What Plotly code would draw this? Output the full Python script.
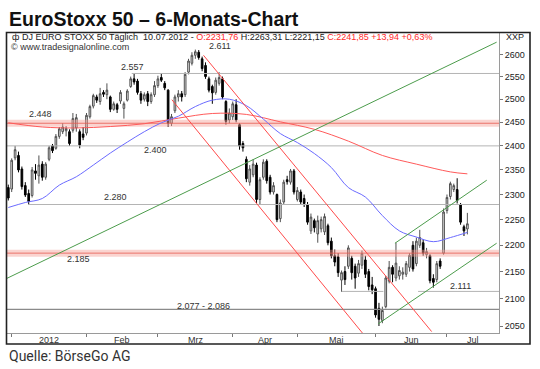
import math
import pandas as pd
import plotly.graph_objects as go

# ---------------- data ----------------
holidays = ["2012-04-06", "2012-04-09"]
dates = [d.strftime("%d.%m.%Y") for d in pd.bdate_range("2011-12-30", "2012-07-10")
         if d.strftime("%Y-%m-%d") not in holidays]

opens = [2314, 2311, 2375, 2380, 2352, 2318, 2302, 2298, 2348, 2338,
         2362, 2335, 2372, 2400, 2395, 2420, 2430, 2432, 2430, 2433,
         2438, 2430, 2425, 2427, 2462, 2485, 2505, 2495, 2515, 2510,
         2505, 2478, 2488, 2496, 2480, 2498, 2528, 2545, 2540, 2512,
         2500, 2512, 2495, 2510, 2530, 2548, 2535, 2520, 2448, 2475,
         2505, 2512, 2510, 2560, 2580, 2598, 2605, 2590, 2575, 2545,
         2528, 2515, 2535, 2545, 2495, 2455, 2462, 2488, 2445, 2405,
         2372, 2325, 2340, 2360, 2290, 2335, 2368, 2335, 2305, 2300,
         2252, 2285, 2330, 2325, 2348, 2290, 2305, 2292, 2280, 2228,
         2248, 2222, 2232, 2226, 2238, 2208, 2180, 2178, 2134, 2150,
         2160, 2175, 2160, 2147, 2162, 2172, 2150, 2125, 2118, 2082,
         2060, 2085, 2132, 2158, 2138, 2142, 2145, 2145, 2158, 2200,
         2165, 2200, 2205, 2182, 2180, 2137, 2135, 2170, 2185, 2268,
         2296, 2310, 2310, 2280, 2236, 2231.76]
highs = [2320, 2374, 2400, 2388, 2357, 2325, 2310, 2356, 2362, 2380,
         2368, 2366, 2400, 2404, 2425, 2440, 2448, 2442, 2435, 2470,
         2468, 2435, 2440, 2470, 2488, 2512, 2510, 2525, 2520, 2535,
         2508, 2495, 2492, 2520, 2495, 2522, 2550, 2557, 2545, 2518,
         2515, 2518, 2515, 2540, 2552, 2557, 2540, 2522, 2468, 2510,
         2520, 2518, 2560, 2590, 2605, 2611, 2610, 2595, 2582, 2550,
         2532, 2548, 2560, 2550, 2498, 2480, 2495, 2500, 2448, 2410,
         2378, 2360, 2372, 2365, 2335, 2372, 2372, 2340, 2325, 2302,
         2290, 2330, 2338, 2352, 2352, 2315, 2310, 2300, 2285, 2262,
         2252, 2258, 2256, 2262, 2242, 2215, 2192, 2185, 2152, 2160,
         2200, 2180, 2165, 2172, 2190, 2180, 2155, 2140, 2122, 2092,
         2085, 2142, 2170, 2162, 2205, 2160, 2158, 2170, 2185, 2208,
         2215, 2230, 2212, 2195, 2183, 2145, 2170, 2175, 2272, 2300,
         2326, 2322, 2333, 2283, 2240, 2263.31]
lows = [2288, 2305, 2370, 2345, 2310, 2295, 2280, 2294, 2330, 2322,
        2328, 2330, 2368, 2385, 2392, 2415, 2425, 2420, 2400, 2428,
        2430, 2395, 2412, 2422, 2458, 2480, 2492, 2488, 2505, 2500,
        2472, 2475, 2470, 2490, 2458, 2495, 2525, 2532, 2510, 2490,
        2495, 2485, 2490, 2505, 2525, 2538, 2520, 2440, 2442, 2470,
        2495, 2495, 2505, 2555, 2575, 2590, 2588, 2562, 2545, 2515,
        2490, 2510, 2530, 2500, 2445, 2448, 2455, 2450, 2392, 2388,
        2325, 2318, 2335, 2283, 2280, 2330, 2322, 2300, 2300, 2245,
        2245, 2280, 2320, 2320, 2300, 2286, 2280, 2275, 2240, 2222,
        2225, 2205, 2225, 2220, 2200, 2175, 2160, 2140, 2112, 2125,
        2155, 2135, 2118, 2140, 2155, 2138, 2115, 2108, 2065, 2050,
        2055, 2082, 2128, 2130, 2132, 2135, 2135, 2140, 2150, 2150,
        2160, 2195, 2180, 2175, 2128, 2120, 2130, 2155, 2182, 2262,
        2290, 2305, 2282, 2240, 2218, 2221.15]
closes = [2293, 2370, 2392, 2350, 2316, 2299, 2286, 2350, 2343, 2360,
          2335, 2362, 2396, 2390, 2420, 2436, 2440, 2437, 2405, 2458,
          2460, 2402, 2418, 2465, 2484, 2508, 2498, 2512, 2511, 2520,
          2478, 2490, 2478, 2515, 2490, 2518, 2545, 2538, 2515, 2498,
          2510, 2495, 2510, 2530, 2545, 2542, 2525, 2448, 2462, 2505,
          2512, 2505, 2555, 2585, 2598, 2606, 2593, 2568, 2550, 2520,
          2514, 2542, 2548, 2505, 2452, 2470, 2490, 2455, 2400, 2396,
          2332, 2352, 2362, 2290, 2330, 2366, 2328, 2305, 2318, 2250,
          2283, 2325, 2326, 2348, 2305, 2308, 2285, 2282, 2245, 2255,
          2234, 2248, 2250, 2256, 2205, 2180, 2168, 2148, 2148, 2135,
          2195, 2148, 2138, 2165, 2184, 2145, 2122, 2116, 2070, 2062,
          2078, 2138, 2158, 2145, 2166, 2152, 2149, 2165, 2181, 2155,
          2208, 2215, 2185, 2188, 2133, 2130, 2165, 2160, 2265, 2294,
          2322, 2318, 2288, 2245, 2228, 2241.85]

# moving averages (bar index -> value)
blue_idx = [0, 5, 10, 15, 20, 25, 30, 35, 40, 45, 50, 55, 60, 65, 70, 75, 80,
            85, 90, 95, 100, 105, 110, 115, 120, 125, 130, 135]
blue_val = [2274, 2284, 2292, 2319, 2336, 2360, 2385, 2408, 2430, 2449, 2463,
            2484, 2498, 2500, 2486, 2457, 2426, 2407, 2384, 2355, 2314, 2295,
            2258, 2228, 2216, 2207, 2215, 2225]
red_idx = [0, 10, 20, 30, 40, 50, 60, 70, 80, 90, 100, 110, 120, 130, 135]
red_val = [2449, 2440, 2438, 2441, 2447, 2459, 2469, 2467, 2451, 2435, 2410,
           2380, 2362, 2346, 2342]

# trend lines (bar index, price)
red_trend = [([57.4, 124.5], [2598, 2040]), ([48.1, 104.2], [2499, 2037])]
green_trend = [([-0.5, 143.6], [2137, 2628]),
               ([108.8, 143.6], [2054, 2204]),
               ([113.7, 140.7], [2204, 2329])]
# horizontal support / resistance lines
h_lines = [([36.3, 144.3], 2557), ([-0.5, 144.3], 2400), ([5.9, 144.3], 2280),
           ([98, 110.3], 2113), ([120.5, 144.3], 2113)]
h_dark = [([-0.5, 144.3], 2080)]
bands = [2448, 2185]

level_labels = ["2.611", "2.557", "2.448", "2.400", "2.280", "2.185",
                "2.077 - 2.086", "2.111"]
y_ticks = [2050, 2100, 2150, 2200, 2250, 2300, 2350, 2400, 2450, 2500, 2550, 2600]
month_labels = ["2012", "Feb", "Mrz", "Apr", "Mai", "Jun", "Jul"]

# ---------------- layout helpers ----------------
W, H = 540, 369
L, R, T, B = 7, 41, 32, 36
PW, PH = W - L - R, H - T - B


def px(xp):
    return (xp - L) / PW


def py(yp):
    return (H - B - yp) / PH


x = list(range(len(dates)))
x_range = [-0.38, 144.3]

month_start = [i for i in range(1, len(dates)) if dates[i][3:5] != dates[i - 1][3:5]]
month_mid = [(a + b) / 2 for a, b in zip(month_start, month_start[1:] + [x_range[1]])]

fig = go.Figure()

for b in bands:
    fig.add_trace(go.Scatter(x=[x_range[0], x_range[1]], y=[b, b], mode="lines",
                             line=dict(color="rgba(245,160,150,0.45)", width=7),
                             hoverinfo="skip", showlegend=False))
    fig.add_trace(go.Scatter(x=[x_range[0], x_range[1]], y=[b, b], mode="lines",
                             line=dict(color="rgba(230,90,80,0.8)", width=1),
                             hoverinfo="skip", showlegend=False))

for xs, v in h_lines:
    fig.add_trace(go.Scatter(x=xs, y=[v, v], mode="lines",
                             line=dict(color="#b4b4b4", width=1),
                             hoverinfo="skip", showlegend=False))
for xs, v in h_dark:
    fig.add_trace(go.Scatter(x=xs, y=[v, v], mode="lines",
                             line=dict(color="#8a8a8a", width=1.4),
                             hoverinfo="skip", showlegend=False))

fig.add_trace(go.Candlestick(
    x=x, open=opens, high=highs, low=lows, close=closes, text=dates,
    increasing=dict(fillcolor="#e8e8e8", line=dict(color="#505050", width=1)),
    decreasing=dict(fillcolor="#000000", line=dict(color="#000000", width=1)),
    whiskerwidth=0, showlegend=False))

fig.add_trace(go.Scatter(x=red_idx, y=red_val, mode="lines", line_shape="spline",
                         line=dict(color="#ff5a5a", width=1), hoverinfo="skip",
                         showlegend=False))
fig.add_trace(go.Scatter(x=blue_idx, y=blue_val, mode="lines", line_shape="spline",
                         line=dict(color="#6b6bff", width=1), hoverinfo="skip",
                         showlegend=False))
for xs, ys in red_trend:
    fig.add_trace(go.Scatter(x=xs, y=ys, mode="lines",
                             line=dict(color="#ff4a4a", width=1),
                             hoverinfo="skip", showlegend=False))
for xs, ys in green_trend:
    fig.add_trace(go.Scatter(x=xs, y=ys, mode="lines",
                             line=dict(color="#4c9c4c", width=1),
                             hoverinfo="skip", showlegend=False))

ann = []
ann.append(dict(x=px(6.5), y=py(19.5), xref="paper", yref="paper", xanchor="left",
                yanchor="middle", showarrow=False,
                text="<b>EuroStoxx 50 – 6-Monats-Chart</b>",
                font=dict(family="Liberation Sans", size=19.5, color="#111")))
ann.append(dict(x=px(6.5), y=py(356), xref="paper", yref="paper", xanchor="left",
                yanchor="middle", showarrow=False, text="Quelle: BörseGo AG",
                font=dict(family="Roboto", size=14, color="#333")))
hdr = ('ф DJ EURO STOXX 50 Täglich  10.07.2012 - '
       '<span style="color:#ff2a2a">O:2231,76</span> H:2263,31 L:2221,15 '
       '<span style="color:#ff2a2a">C:2241,85 +13,94 +0,63%</span>')
ann.append(dict(x=px(9.5), y=py(37.5), xref="paper", yref="paper", xanchor="left",
                yanchor="middle", showarrow=False, text=hdr,
                font=dict(family="Liberation Sans", size=9, color="#222")))
ann.append(dict(x=px(9), y=py(47), xref="paper", yref="paper", xanchor="left",
                yanchor="middle", showarrow=False, text="© www.tradesignalonline.com",
                font=dict(family="Liberation Sans", size=9, color="#333")))
ann.append(dict(x=px(503.5), y=py(37.5), xref="paper", yref="paper", xanchor="left",
                yanchor="middle", showarrow=False, text="XXP",
                font=dict(family="Liberation Sans", size=9, color="#222")))

label_pos = [(219.5, 45.5), (132, 66.7), (40.8, 113.7), (155.8, 150), (115, 196.7),
             (78, 259.3), (203.7, 306.3), (460.8, 286.3)]
for t, (lx, ly) in zip(level_labels, label_pos):
    ann.append(dict(x=px(lx), y=py(ly), xref="paper", yref="paper", xanchor="center",
                    yanchor="middle", showarrow=False, text=t,
                    font=dict(family="Liberation Sans", size=9, color="#333")))

for m, lab in zip(month_mid, month_labels):
    ann.append(dict(x=m, y=py(339.5), xref="x", yref="paper", xanchor="center",
                    yanchor="middle", showarrow=False, text=lab,
                    font=dict(family="Liberation Sans", size=9, color="#333")))

fig.update_layout(
    width=W, height=H, margin=dict(l=L, r=R, t=T, b=B),
    paper_bgcolor="white", plot_bgcolor="white",
    font=dict(family="Liberation Sans", size=9, color="#222"),
    annotations=ann, showlegend=False, hovermode=False,
    shapes=[dict(type="rect", xref="paper", yref="paper", x0=px(6.5), x1=px(530),
                 y0=py(344), y1=py(32.5), line=dict(color="#222", width=1.6),
                 fillcolor="rgba(0,0,0,0)", layer="above")],
    xaxis=dict(range=x_range, showgrid=False, zeroline=False, showline=True,
               linecolor="#9a9a9a", linewidth=1, ticks="outside", ticklen=3,
               tickcolor="#777", tickvals=month_start,
               ticktext=[""] * len(month_start), rangeslider=dict(visible=False),
               fixedrange=True),
    yaxis=dict(type="log", side="right",
               range=[math.log10(2037.5), math.log10(2651.5)],
               showgrid=False, zeroline=False, showline=True, linecolor="#9a9a9a",
               linewidth=1, ticks="outside", ticklen=3, tickcolor="#777",
               tickvals=y_ticks, ticktext=[str(v) for v in y_ticks],
               tickfont=dict(size=9, color="#222"), fixedrange=True),
)

fig.write_html("out.html", config={"displayModeBar": False, "staticPlot": True},
               post_script="document.body.style.margin='0';"
                           "document.body.style.overflow='hidden';")
